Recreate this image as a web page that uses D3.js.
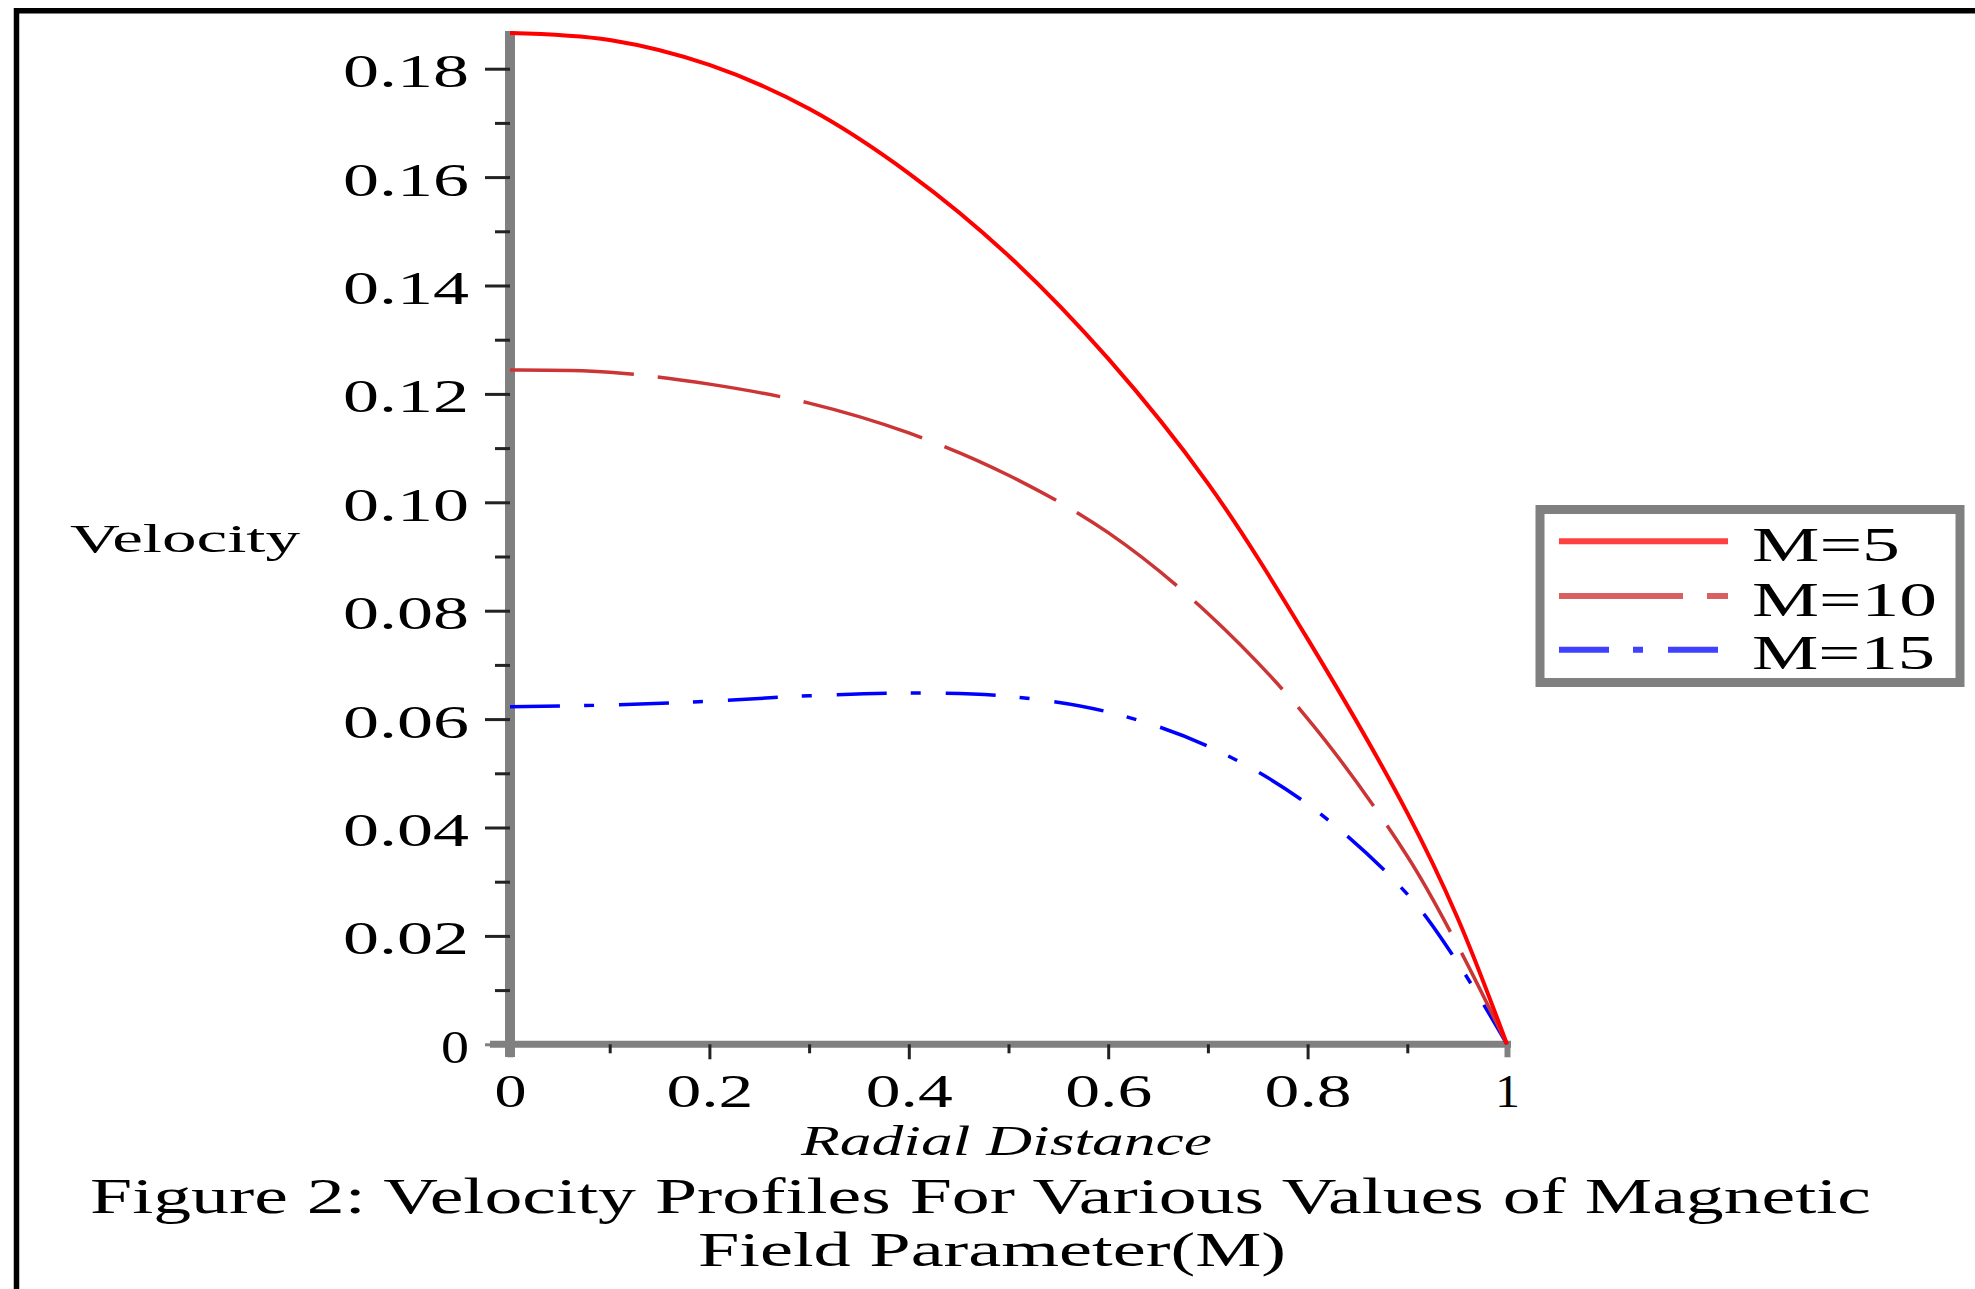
<!DOCTYPE html>
<html>
<head>
<meta charset="utf-8">
<script src="https://cdn.jsdelivr.net/npm/d3@7"></script>
<style>
  body { margin: 0; background: #fff; }
  text { font-family: "Liberation Serif", "Times New Roman", serif; fill: #000; }
</style>
</head>
<body>
<div id="vis"></div>
<script>
// values
var radialDistance = [0, 0.1, 0.2, 0.3, 0.4, 0.5, 0.6, 0.7, 0.8, 0.9, 0.95, 1];
var velocityM5  = [0.1866, 0.1853, 0.1807, 0.1726, 0.1607, 0.1455, 0.1265, 0.1035, 0.0748, 0.0427, 0.0235, 0];
var velocityM10 = [0.1244, 0.1240, 0.1218, 0.1183, 0.1128, 0.1050, 0.0944, 0.0795, 0.0601, 0.0347, 0.0184, 0];
var velocityM15 = [0.0623, 0.0626, 0.0633, 0.0643, 0.0648, 0.0642, 0.0613, 0.0550, 0.0443, 0.0277, 0.0152, 0];
var seriesLabels = ["M=5", "M=10", "M=15"];

var xTicks = [0, 0.2, 0.4, 0.6, 0.8, 1];
var xMinorTicks = [0.1, 0.3, 0.5, 0.7, 0.9];
var yTicks = [0, 0.02, 0.04, 0.06, 0.08, 0.10, 0.12, 0.14, 0.16, 0.18];
var yMinorTicks = [0.01, 0.03, 0.05, 0.07, 0.09, 0.11, 0.13, 0.15, 0.17];

var width = 1975, height = 1289;

var svg = d3.select("#vis").append("svg")
    .attr("width", width)
    .attr("height", height);

svg.append("rect").attr("width", width).attr("height", height).attr("fill", "#fff");

// outer frame (only top and left edges are inside the picture)
svg.append("path")
    .attr("d", "M16.5," + (height + 10) + "V10.7H" + (width + 10))
    .attr("fill", "none")
    .attr("stroke", "#000")
    .attr("stroke-width", 5.5);

var x = d3.scaleLinear().domain([0, 1]).range([510, 1507]);
var y = d3.scaleLinear().domain([0, 0.18]).range([1044.3, 68.7]);

// axis lines
svg.append("line")
    .attr("x1", x(0)).attr("x2", x(0))
    .attr("y1", 31).attr("y2", 1057)
    .attr("stroke", "#808080").attr("stroke-width", 10);
svg.append("line")
    .attr("x1", 490).attr("x2", x(1) + 4)
    .attr("y1", y(0)).attr("y2", y(0))
    .attr("stroke", "#808080").attr("stroke-width", 7);

function styleTicks(g, color) {
    g.attr("font-family", null).attr("font-size", null);
    g.select(".domain").remove();
    g.selectAll(".tick line").attr("stroke", color).attr("stroke-width", 3);
}

// y ticks
svg.append("g")
    .attr("transform", "translate(" + x(0) + ",0)")
    .call(d3.axisLeft(y).tickValues(yMinorTicks).tickSize(15).tickFormat(""))
    .call(styleTicks, "#222");

var yAxis = svg.append("g")
    .attr("transform", "translate(" + x(0) + ",0)")
    .call(d3.axisLeft(y).tickValues(yTicks).tickSize(25).tickPadding(16)
        .tickFormat(function(d) { return d === 0 ? "0" : d.toFixed(2); }))
    .call(styleTicks, "#222");
yAxis.selectAll(".tick line").filter(function(d) { return d === 0; }).attr("stroke", "#808080");
yAxis.selectAll(".tick text")
    .attr("dy", 18)
    .style("font-size", "46px")
    .attr("textLength", function(d) { return d === 0 ? 28 : 126; })
    .attr("lengthAdjust", "spacingAndGlyphs");

// x ticks
svg.append("g")
    .attr("transform", "translate(0," + y(0) + ")")
    .call(d3.axisBottom(x).tickValues(xMinorTicks).tickSize(9).tickFormat(""))
    .call(styleTicks, "#222");

var xAxis = svg.append("g")
    .attr("transform", "translate(0," + y(0) + ")")
    .call(d3.axisBottom(x).tickValues(xTicks).tickSize(15)
        .tickFormat(function(d) { return d === 0 || d === 1 ? String(d) : d.toFixed(1); }))
    .call(styleTicks, "#222");
xAxis.selectAll(".tick line").filter(function(d) { return d === 0 || d === 1; })
    .attr("stroke", "#808080").attr("stroke-width", 6).attr("y2", 13);
xAxis.selectAll(".tick text")
    .attr("y", 63).attr("dy", null)
    .style("font-size", "46px")
    .attr("textLength", function(d) { return d === 0 ? 32 : d === 1 ? 25 : 87; })
    .attr("lengthAdjust", "spacingAndGlyphs");

// curves
var series = [
    { name: seriesLabels[0], values: velocityM5,  color: "#ff0000", dash: null,          width: 4,   legendColor: "#ff4040" },
    { name: seriesLabels[1], values: velocityM10, color: "#cc3535", dash: "124,24",      width: 3.5, legendColor: "#d96060" },
    { name: seriesLabels[2], values: velocityM15, color: "#0000ff", dash: "50,24,10,25", width: 3.5, legendColor: "#4040ff" }
];

var line = d3.line()
    .x(function(d) { return x(d[0]); })
    .y(function(d) { return y(d[1]); })
    .curve(d3.curveCatmullRom.alpha(0.5));

svg.selectAll(".curve")
    .data(series.slice().reverse())
    .enter()
    .append("path")
    .attr("class", "curve")
    .attr("d", function(s) { return line(radialDistance.map(function(r, i) { return [r, s.values[i]]; })); })
    .attr("fill", "none")
    .attr("stroke", function(s) { return s.color; })
    .attr("stroke-width", function(s) { return s.width; })
    .attr("stroke-dasharray", function(s) { return s.dash; });

// axis titles
svg.append("text")
    .attr("x", 70).attr("y", 552)
    .style("font-size", "40px")
    .attr("textLength", 230).attr("lengthAdjust", "spacingAndGlyphs")
    .text("Velocity");

svg.append("text")
    .attr("x", 801).attr("y", 1155)
    .style("font-size", "42px").style("font-style", "italic")
    .attr("textLength", 411).attr("lengthAdjust", "spacingAndGlyphs")
    .text("Radial Distance");

// caption
svg.append("text")
    .attr("x", 90).attr("y", 1213)
    .style("font-size", "50px")
    .attr("textLength", 1781).attr("lengthAdjust", "spacingAndGlyphs")
    .text("Figure 2: Velocity Profiles For Various Values of Magnetic");
svg.append("text")
    .attr("x", 698).attr("y", 1266)
    .style("font-size", "48px")
    .attr("textLength", 588).attr("lengthAdjust", "spacingAndGlyphs")
    .text("Field Parameter(M)");

// legend
var legend = svg.append("g");
legend.append("rect")
    .attr("x", 1540).attr("y", 509.5)
    .attr("width", 420).attr("height", 173)
    .attr("fill", "#fff")
    .attr("stroke", "#808080").attr("stroke-width", 9);

var legendRows = [541.3, 596, 649.7];
var legendTextWidths = [148, 185, 183];

legend.selectAll(".lg-line")
    .data(series)
    .enter()
    .append("line")
    .attr("x1", 1559).attr("x2", 1728)
    .attr("y1", function(s, i) { return legendRows[i]; })
    .attr("y2", function(s, i) { return legendRows[i]; })
    .attr("stroke", function(s) { return s.legendColor; })
    .attr("stroke-width", 6)
    .attr("stroke-dasharray", function(s) { return s.dash; });

legend.selectAll(".lg-text")
    .data(series)
    .enter()
    .append("text")
    .attr("x", 1752)
    .attr("y", function(s, i) { return legendRows[i] + 19.5; })
    .style("font-size", "48px")
    .attr("textLength", function(s, i) { return legendTextWidths[i]; })
    .attr("lengthAdjust", "spacingAndGlyphs")
    .text(function(s) { return s.name; });
</script>
</body>
</html>
